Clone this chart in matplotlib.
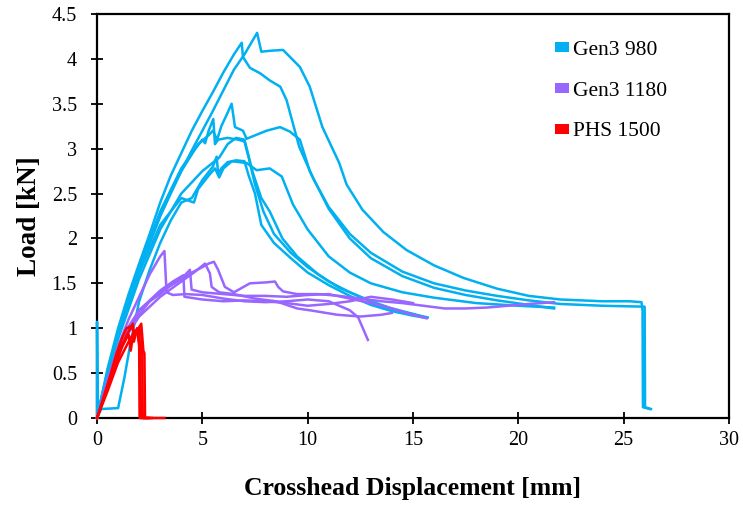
import matplotlib

matplotlib.use("Agg")
import matplotlib.pyplot as plt
from matplotlib.lines import Line2D

# ---- Gen3 980 (cyan) ----
g980_a_x = [0, 0.5, 1, 1.5, 2, 2.5, 3, 3.5, 4, 4.5, 5, 5.5, 6, 6.5, 7, 7.6, 7.8, 8.2, 8.83, 9.63, 10.1,
            10.7, 11.06, 11.5, 11.85, 12.6, 13.6, 14.7, 16, 17.4, 19, 20.5, 22, 24, 25.3, 25.85, 25.9, 25.92, 26.25]
g980_a_y = [0, 0.48, 0.92, 1.3, 1.62, 1.95, 2.25, 2.52, 2.75, 2.98, 3.2, 3.42, 3.65, 3.88, 4.05, 4.29, 4.08, 4.09,
            4.1, 3.91, 3.69, 3.24, 3.06, 2.84, 2.6, 2.32, 2.07, 1.87, 1.7, 1.56, 1.44, 1.36, 1.32, 1.3, 1.3, 1.29,
            1.2, 0.12, 0.1]

g980_b_x = [0, 0.5, 1, 1.5, 2, 2.5, 3, 3.5, 4, 4.5, 5, 5.5, 6, 6.5, 6.87, 6.93, 7.26, 7.74, 8.2, 8.7, 9.0, 9.3,
            9.6, 10.3, 11, 12, 13, 14.5, 16, 17.5, 19, 20.5, 22, 24, 26.0, 26.02, 26.3]
g980_b_y = [0, 0.55, 1.0, 1.38, 1.72, 2.05, 2.4, 2.7, 2.95, 3.2, 3.42, 3.63, 3.85, 4.05, 4.18, 4.02, 3.9, 3.84,
            3.76, 3.69, 3.54, 3.28, 3.02, 2.65, 2.35, 2.05, 1.84, 1.63, 1.5, 1.42, 1.36, 1.31, 1.27, 1.25, 1.24,
            0.12, 0.1]

g980_c_x = [0, 0.5, 1, 2, 3, 4, 4.8, 5.3, 5.5, 5.7, 5.9, 6.2, 6.39, 6.47, 6.55, 6.93, 7.1, 8.05, 8.69, 9.16,
            9.63, 10.1, 11, 12, 13, 14.5, 16, 17.5, 19, 20.5, 21.7]
g980_c_y = [0, 0.5, 0.95, 1.65, 2.25, 2.75, 3.05, 3.15, 3.2, 3.1, 3.25, 3.4, 3.5, 3.37, 3.24, 3.2, 3.11, 3.2,
            3.24, 3.19, 3.1, 2.75, 2.33, 2.0, 1.78, 1.58, 1.45, 1.37, 1.31, 1.26, 1.22]

g980_d_x = [0, 0, 0.03, 0.5, 1, 2, 3, 4, 4.6, 5.0, 5.13, 5.3, 5.52, 5.6, 5.75, 6.2, 6.7, 7.0, 7.2, 7.5, 7.9,
            8.4, 9.2, 10, 11, 12, 13, 14, 15, 15.6]
g980_d_y = [0, 1.07, 0.05, 0.52, 0.95, 1.68, 2.3, 2.78, 2.98, 3.1, 3.06, 3.2, 3.33, 3.05, 3.1, 3.12, 3.1, 3.08,
            2.9, 2.6, 2.3, 2.05, 1.84, 1.68, 1.52, 1.4, 1.3, 1.22, 1.16, 1.12]

g980_e_x = [0, 0.2, 1.0, 1.3, 1.6, 2.0, 2.5, 3, 3.5, 4, 4.5, 5, 5.5, 5.68, 5.75, 5.9, 6.2, 6.6, 7.0, 7.2, 7.5,
            7.8, 8.4, 9.2, 10, 11, 12, 13, 14, 15, 15.5]
g980_e_y = [0, 0.1, 0.11, 0.45, 0.85, 1.3, 1.65, 1.95, 2.2, 2.4, 2.45, 2.65, 2.8, 2.91, 2.72, 2.78, 2.85, 2.87,
            2.86, 2.7, 2.5, 2.15, 1.95, 1.78, 1.62, 1.48, 1.36, 1.26, 1.19, 1.14, 1.12]

g980_f_x = [0, 0.5, 1, 2, 3, 4, 4.6, 4.8, 5.3, 5.6, 5.8, 6.0, 6.4, 7.1, 7.58, 8.2, 8.77, 9.3, 10, 11, 12, 13,
            14.5, 16, 18, 20, 21.7]
g980_f_y = [0, 0.5, 0.93, 1.62, 2.15, 2.45, 2.4, 2.55, 2.7, 2.78, 2.68, 2.78, 2.86, 2.84, 2.76, 2.78, 2.69, 2.38,
            2.1, 1.8, 1.62, 1.5, 1.4, 1.34, 1.28, 1.25, 1.23]

g980_g_x = [0, 0.5, 1, 2, 3, 4, 5, 5.8, 6.2, 6.6, 7.0, 7.4, 7.8, 8.2, 8.8, 9.5, 10.5, 11.5, 12.5, 13.5, 14.5,
            15.7]
g980_g_y = [0, 0.45, 0.88, 1.55, 2.1, 2.5, 2.75, 2.9, 3.05, 3.12, 3.1, 2.73, 2.45, 2.3, 2.0, 1.8, 1.6, 1.45,
            1.35, 1.25, 1.18, 1.12]

# ---- Gen3 1180 (purple) ----
g1180_a_x = [0, 0.5, 1, 1.5, 2, 2.5, 3.0, 3.2, 3.3, 3.6, 4.2, 5, 6, 7, 8, 9, 10, 11, 12, 12.4, 12.86]
g1180_a_y = [0, 0.42, 0.8, 1.1, 1.35, 1.6, 1.8, 1.86, 1.4, 1.37, 1.38, 1.37, 1.33, 1.3, 1.29, 1.3, 1.32, 1.3,
             1.2, 1.12, 0.87]

g1180_b_x = [0, 0.5, 1, 1.5, 2, 2.5, 3, 3.5, 4, 4.5, 5, 5.3, 5.55, 5.75, 6.07, 6.5, 7.26, 8, 8.45, 8.6, 8.83,
             9.5, 10.5, 11.5, 12.5, 13.5, 14.5, 15.5, 16.5, 17.5, 18.5, 19.5, 20.5, 21.7]
g1180_b_y = [0, 0.38, 0.72, 0.98, 1.15, 1.3, 1.38, 1.48, 1.55, 1.62, 1.68, 1.72, 1.74, 1.65, 1.46, 1.4, 1.5,
             1.51, 1.52, 1.46, 1.41, 1.38, 1.38, 1.36, 1.33, 1.3, 1.28, 1.25, 1.22, 1.22, 1.23, 1.25, 1.27, 1.29]

g1180_c_x = [0, 0.5, 1, 1.5, 2, 3, 4, 4.41, 4.49, 5, 6, 7, 8, 9, 10, 11, 12, 13, 14, 15, 15.65]
g1180_c_y = [0, 0.4, 0.76, 1.02, 1.2, 1.4, 1.55, 1.65, 1.43, 1.4, 1.38, 1.36, 1.36, 1.35, 1.37, 1.38, 1.33,
             1.28, 1.22, 1.15, 1.11]

g1180_d_x = [0, 0.5, 1, 1.5, 2, 3, 4, 4.6, 5.13, 5.36, 5.44, 5.8, 6.5, 7.5, 8.5, 9.5, 10.1, 11.4, 12.5, 13.5,
             14.0]
g1180_d_y = [0, 0.36, 0.7, 0.95, 1.13, 1.35, 1.52, 1.62, 1.72, 1.61, 1.46, 1.4, 1.38, 1.33, 1.3, 1.22, 1.2,
             1.15, 1.13, 1.15, 1.17]

g1180_e_x = [0, 0.5, 1, 1.5, 2, 3, 3.6, 4.1, 4.15, 5, 6, 7, 8, 9, 10, 11, 12, 13, 14, 15]
g1180_e_y = [0, 0.4, 0.75, 1.0, 1.2, 1.42, 1.52, 1.59, 1.35, 1.32, 1.3, 1.31, 1.3, 1.28, 1.25, 1.27, 1.3,
             1.35, 1.32, 1.28]

# ---- PHS 1500 (red) ----
phs_a_x = [0, 0.3, 0.6, 0.9, 1.2, 1.4, 1.6, 1.8, 1.9, 2.0, 2.05, 2.08, 2.1, 3.2]
phs_a_y = [0, 0.2, 0.45, 0.7, 0.9, 1.0, 1.02, 0.95, 1.0, 0.98, 0.7, 0.02, 0.0, 0.0]

phs_b_x = [0, 0.5, 1.0, 1.5, 1.8, 1.95, 2.0, 2.1, 2.15, 2.17, 2.5]
phs_b_y = [0, 0.3, 0.62, 0.85, 0.97, 0.92, 1.0, 0.95, 0.72, 0.0, 0.0]

phs_c_x = [0, 0.4, 1.0, 1.4, 1.7, 1.75, 1.85, 2.1, 2.2, 2.25, 2.28, 2.6]
phs_c_y = [0, 0.3, 0.72, 0.92, 1.05, 0.85, 0.95, 1.05, 0.75, 0.72, 0.0, 0.0]

phs_d_x = [0, 0.6, 1.2, 1.5, 1.6, 1.7, 1.9, 2.0, 2.02, 2.4]
phs_d_y = [0, 0.4, 0.8, 0.93, 0.75, 0.9, 0.98, 0.8, 0.0, 0.0]

series_names = ["Gen3 980", "Gen3 1180", "PHS 1500"]
series_colors = ["#00B0F0", "#9966FF", "#FF0000"]

x_ticks = [0, 5, 10, 15, 20, 25, 30]
y_ticks = [0, 0.5, 1, 1.5, 2, 2.5, 3, 3.5, 4, 4.5]
y_tick_labels = ["0", "0.5", "1", "1.5", "2", "2.5", "3", "3.5", "4", "4.5"]

plt.rcParams["font.family"] = ["Liberation Serif", "DejaVu Serif"]


def draw(out_file="out.png"):
    fig = plt.figure(figsize=(7.43, 5.05), dpi=100)
    ax = fig.add_axes([0.1306, 0.1723, 0.8504, 0.8000])

    groups = [
        [(g980_a_x, g980_a_y), (g980_b_x, g980_b_y), (g980_c_x, g980_c_y), (g980_d_x, g980_d_y),
         (g980_e_x, g980_e_y), (g980_f_x, g980_f_y), (g980_g_x, g980_g_y)],
        [(g1180_a_x, g1180_a_y), (g1180_b_x, g1180_b_y), (g1180_c_x, g1180_c_y), (g1180_d_x, g1180_d_y),
         (g1180_e_x, g1180_e_y)],
        [(phs_a_x, phs_a_y), (phs_b_x, phs_b_y), (phs_c_x, phs_c_y), (phs_d_x, phs_d_y)],
    ]
    for curves, color in zip(groups, series_colors):
        for xs, ys in curves:
            ax.plot(xs, ys, color=color, lw=1.8, solid_joinstyle="round", zorder=3, clip_on=False)

    ax.set_xlim(0, 30)
    ax.set_ylim(0, 4.5)
    ax.set_xticks(x_ticks)
    ax.set_yticks(y_ticks)
    ax.set_yticklabels(y_tick_labels)
    ax.tick_params(direction="inout", length=9, width=1.3, labelsize=14.5)
    ax.tick_params(axis="x", pad=5)
    ax.tick_params(axis="y", pad=10)
    for sp in ax.spines.values():
        sp.set_linewidth(1.6)

    ax.set_xlabel("Crosshead Displacement [mm]", fontsize=18.5, fontweight="bold", labelpad=19)
    ax.set_ylabel("Load [kN]", fontsize=19.5, fontweight="bold", labelpad=7)

    # Excel-style legend keys: small flat rectangles
    key = [(-0.7, -0.5), (0.7, -0.5), (0.7, 0.5), (-0.7, 0.5), (-0.7, -0.5)]
    handles = [Line2D([], [], ls="none", marker=key, markersize=9.4, color=c, markeredgewidth=0)
               for c in series_colors]
    ax.legend(handles, series_names, loc="upper left", bbox_to_anchor=(0.722, 0.936), frameon=False,
              fontsize=15.5, labelspacing=0.96, handlelength=0.8, handletextpad=0.1,
              borderpad=0, borderaxespad=0)

    fig.savefig(out_file, dpi=100)
    plt.close(fig)


if __name__ == "__main__":
    draw()
